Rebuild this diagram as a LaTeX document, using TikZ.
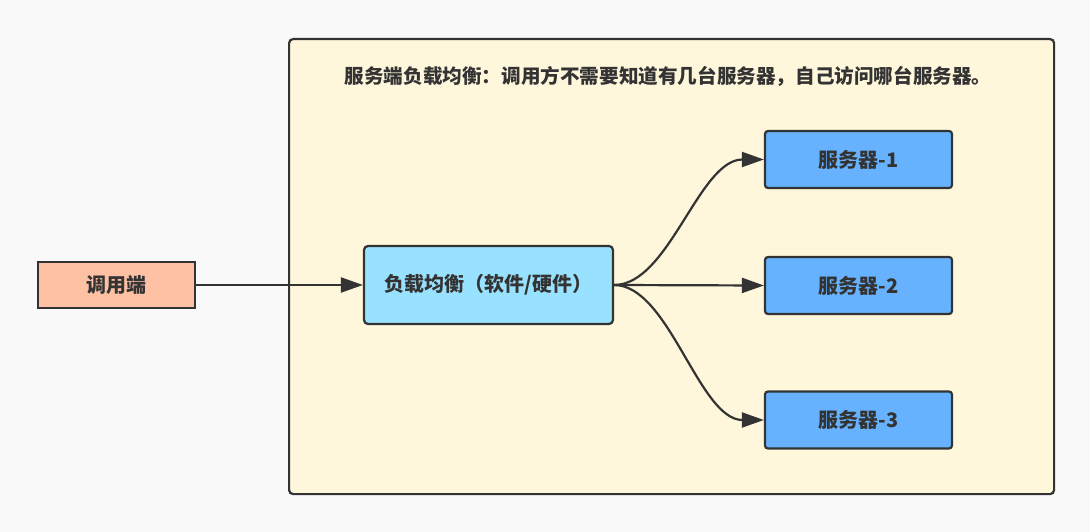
\documentclass[tikz,border=0pt]{standalone}
\usepackage{fontspec}
\setmainfont{Noto Sans CJK SC}
\usetikzlibrary{arrows.meta,positioning}
\definecolor{bgcol}{HTML}{F9F9F9}
\definecolor{edgecol}{HTML}{333333}
\definecolor{panelcol}{HTML}{FFF7DC}
\definecolor{clientcol}{HTML}{FFC1A4}
\definecolor{lbcol}{HTML}{99E2FF}
\definecolor{servercol}{HTML}{66B2FF}
\tikzset{
  box/.style={draw=edgecol, line width=2.2pt, text=edgecol, inner sep=0pt,
    font=\bfseries\fontsize{20}{24}\selectfont},
  server/.style={box, fill=servercol, rounded corners=3pt, minimum width=187pt, minimum height=57pt},
  conn/.style={draw=edgecol, line width=2.2pt, -{Triangle[length=22pt,width=15pt]}},
}

\begin{document}
\begin{tikzpicture}[x=1pt,y=1pt,yscale=-1]
  % background, sets the picture size
  \fill [bgcol] (0,0) rectangle (1090,532);
  \useasboundingbox (0,0) rectangle (1090,532);

  % Text Node
  \node [box, fill=panelcol, rounded corners=4pt, anchor=north west, minimum width=765pt, minimum height=455pt] (panel) at (288,38) {};
  \node [text=edgecol, font=\bfseries\fontsize{19.6}{24}\selectfont] (title) at (668,76) {服务端负载均衡：调用方不需要知道有几台服务器，自己访问哪台服务器。};
  % Text Node
  \node [box, fill=clientcol, minimum width=157pt, minimum height=46pt] (client) at (116.5,285) {调用端};
  % Text Node
  \node [box, fill=lbcol, rounded corners=4pt, minimum width=249pt, minimum height=78pt] (lb) at (488.5,285) {负载均衡（软件/硬件）};
  % Text Node
  \node [server] (s1) at (858.5,159.5) {服务器-1};
  \node [server] (s2) at (858.5,285.5) {服务器-2};
  \node [server] (s3) at (858.5,420) {服务器-3};

  % Connection
  \draw [conn] (client) -- (lb);
  % Connection
  \draw [conn] (lb.east) .. controls +(55,0) and +(-65,0) .. (s1.west);
  \draw [conn] (lb.east) -- (s2.west);
  \draw [conn] (lb.east) .. controls +(55,0) and +(-65,0) .. (s3.west);
\end{tikzpicture}
\end{document}
